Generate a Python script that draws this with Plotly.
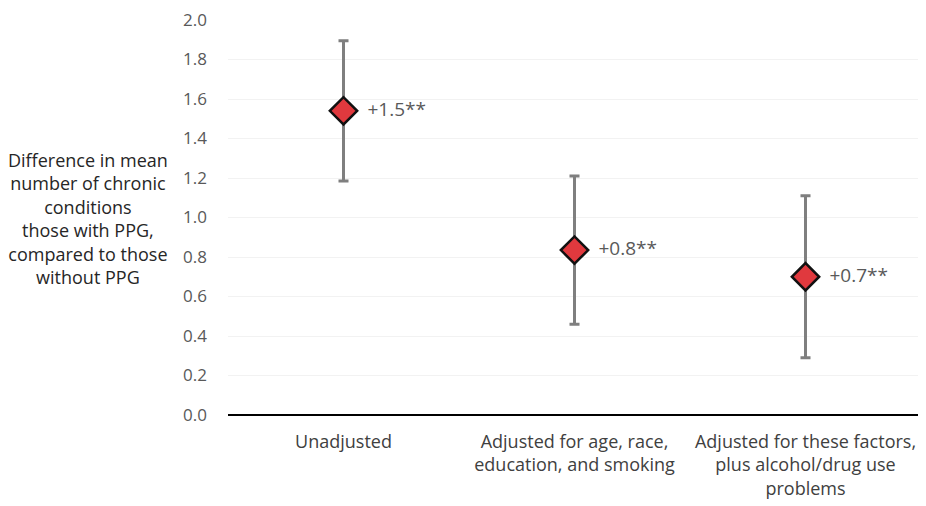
import plotly.graph_objects as go

categories = ["Unadjusted",
              "Adjusted for age, race,<br>education, and smoking",
              "Adjusted for these factors,<br>plus alcohol/drug use<br>problems"]
means = [1.54, 0.835, 0.70]
upper = [1.895, 1.21, 1.11]
lower = [1.185, 0.46, 0.29]
labels = ["+1.5**", "+0.8**", "+0.7**"]
y_ticks = [0.0, 0.2, 0.4, 0.6, 0.8, 1.0, 1.2, 1.4, 1.6, 1.8, 2.0]

FONT = "Open Sans, sans-serif"

fig = go.Figure()
fig.add_trace(go.Scatter(
    x=categories, y=means, mode="markers+text",
    text=["  " + t for t in labels], textposition="middle right",
    textfont=dict(size=19, color="#595959", family=FONT),
    marker=dict(symbol="diamond", size=21, color="#E0393E",
                line=dict(color="#111111", width=2.5)),
    error_y=dict(type="data", symmetric=False,
                 array=[u - m for u, m in zip(upper, means)],
                 arrayminus=[m - l for m, l in zip(means, lower)],
                 color="#7F7F7F", thickness=3, width=5),
    cliponaxis=False, showlegend=False,
))

fig.update_layout(
    width=918, height=498,
    margin=dict(l=220, r=5, t=12, b=91, autoexpand=False),
    paper_bgcolor="white", plot_bgcolor="white",
    font=dict(family=FONT, color="#595959", size=15),
    xaxis=dict(range=[-0.5, 2.5], showgrid=False, showline=False, zeroline=False, ticks="",
               ticklabelstandoff=14, automargin=False,
               tickfont=dict(size=18, color="#404040")),
    yaxis=dict(range=[0, 2.0], tickvals=y_ticks,
               ticktext=[f"{v:.1f}" for v in y_ticks],
               showgrid=True, gridcolor="#F2F2F2", gridwidth=1,
               zeroline=True, zerolinecolor="#000000", zerolinewidth=1.5,
               showline=False, ticks="", ticklabelstandoff=20,
               ticklabeloverflow="allow", automargin=False,
               tickfont=dict(size=17, color="#595959")),
    annotations=[dict(
        text="Difference in mean<br>number of chronic<br>conditions<br>those with PPG,<br>compared to those<br>without PPG",
        xref="paper", yref="paper", x=-(220 - 80) / 693, y=(407 - 210) / 395,
        xanchor="center", yanchor="middle",
        showarrow=False, align="center",
        font=dict(size=18, color="#262626", family=FONT))],
)
fig.write_html("out.html")
